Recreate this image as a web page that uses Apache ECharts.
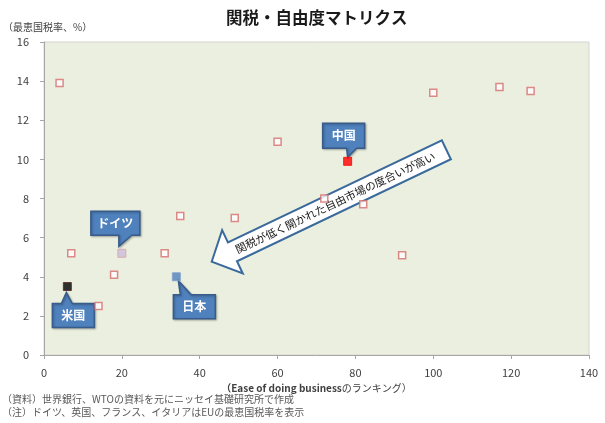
<!DOCTYPE html>
<html><head><meta charset="utf-8">
<script src="https://cdn.jsdelivr.net/npm/echarts@6/dist/echarts.min.js"></script>
<style>html,body{margin:0;padding:0;background:#fff}#c{width:605px;height:423px}</style>
</head><body><div id="c"></div>
<script>
const otherRank   = [4, 7, 14, 18, 31, 35, 49, 60, 72, 82, 92, 100, 117, 125];
const otherTariff = [13.9, 5.2, 2.5, 4.1, 5.2, 7.1, 7.0, 10.9, 8.0, 7.7, 5.1, 13.4, 13.7, 13.5];
const countries     = ['米国', 'ドイツ', '日本', '中国'];
const countryRank   = [6, 20, 34, 78];
const countryTariff = [3.5, 5.2, 4.0, 9.9];
const countryColors = ['#000000', '#c9bddb', '#4f81bd', '#ff0000'];
const countryBorders = ['#5a1f1f', '#d9a0a0', '#7f9fc8', '#ff0000'];

const FONT = '"Noto Sans CJK JP", "Noto Sans", sans-serif';
const chart = echarts.init(document.getElementById('c'), null, {renderer: 'canvas'});

const otherData = otherRank.map((r, i) => [r, otherTariff[i]]);
const countryData = countries.map((n, i) => ({
  value: [countryRank[i], countryTariff[i]],
  itemStyle: {color: countryColors[i], borderColor: countryBorders[i], borderWidth: 1}
}));

chart.setOption({
  animation: false,
  textStyle: {fontFamily: FONT},
  title: {
    text: '関税・自由度マトリクス', left: 221, top: 4,
    textStyle: {fontSize: 16.5, fontWeight: 'bold', color: '#1a1a1a', fontFamily: FONT}
  },
  grid: {
    left: 44, right: 16, top: 42, bottom: 68, show: true,
    backgroundColor: '#ebefdf', borderColor: '#d4d4d4', borderWidth: 1
  },
  xAxis: {
    type: 'value', min: 0, max: 140, interval: 20,
    axisLine: {show: true, lineStyle: {color: '#a6a6a6'}},
    axisTick: {show: true, length: 4, lineStyle: {color: '#a6a6a6'}},
    splitLine: {show: false},
    axisLabel: {fontSize: 11, color: '#404040', margin: 12, fontFamily: FONT},
    name: '{b|（Ease of doing business}{n|のランキング）}',
    nameLocation: 'middle', nameGap: 27,
    nameTextStyle: {
      rich: {
        b: {fontSize: 10, fontWeight: 'bold', color: '#404040', fontFamily: FONT},
        n: {fontSize: 10, color: '#404040', fontFamily: FONT}
      }
    }
  },
  yAxis: {
    type: 'value', min: 0, max: 16, interval: 2,
    axisLine: {show: true, lineStyle: {color: '#a6a6a6'}},
    axisTick: {show: true, length: 4, lineStyle: {color: '#a6a6a6'}},
    splitLine: {show: false},
    axisLabel: {fontSize: 11, color: '#404040', margin: 15, fontFamily: FONT}
  },
  series: [
    {
      type: 'scatter', data: otherData, symbol: 'rect', symbolSize: 7,
      itemStyle: {color: '#ffffff', borderColor: '#d46e6e', borderWidth: 1.5},
      z: 2
    },
    {
      type: 'scatter', data: countryData, symbol: 'rect', symbolSize: 8, z: 3
    }
  ]
});

// Callouts (box + tail) anchored to each country's data point
const callouts = [
  {box: [-15, 17, 27, 41], tail: [[-6, 17], [-1, 6], [5, 17]], down: false},   // 米国
  {box: [-31, -42, 18, -18], tail: [[-3, -18], [-3, -7], [10, -18]], down: true}, // ドイツ
  {box: [-3, 18, 39, 42], tail: [[4, 18], [2, 4], [15, 18]], down: false},     // 日本
  {box: [-25, -38, 17, -13], tail: [[-1, -13], [0, -4], [9, -13]], down: true}  // 中国
];

const graphics = [];
countries.forEach((name, i) => {
  const p = chart.convertToPixel({gridIndex: 0}, [countryRank[i], countryTariff[i]]);
  const c = callouts[i];
  const [x0, y0, x1, y1] = c.box;
  let pts;
  if (c.down) {
    pts = [[x0, y0], [x1, y0], [x1, y1], c.tail[2], c.tail[1], c.tail[0], [x0, y1]];
  } else {
    pts = [[x0, y0], c.tail[0], c.tail[1], c.tail[2], [x1, y0], [x1, y1], [x0, y1]];
  }
  graphics.push({
    type: 'group', x: p[0], y: p[1], z: 20,
    children: [
      {type: 'polygon', shape: {points: pts},
       style: {fill: '#4f81bd', stroke: '#385d8a', lineWidth: 1.5,
               shadowBlur: 2, shadowColor: 'rgba(0,0,0,0.25)', shadowOffsetX: 1, shadowOffsetY: 1}},
      {type: 'text', x: (x0 + x1) / 2, y: (y0 + y1) / 2,
       style: {text: name, fill: '#ffffff', font: 'bold 12px ' + FONT, align: 'center', verticalAlign: 'middle'}}
    ]
  });
});

// Big arrow annotation
const L = 260, hw = 10.5, headL = 23, headW = 24;
graphics.push({
  type: 'group', x: 211.7, y: 261.7, rotation: 25.5 * Math.PI / 180, z: 15,
  children: [
    {type: 'polygon',
     shape: {points: [[0, 0], [headL, -headW], [headL, -hw], [L, -hw], [L, hw], [headL, hw], [headL, headW]]},
     style: {fill: '#ffffff', stroke: '#3a6a9c', lineWidth: 2}},
    {type: 'text', x: 137, y: 0, z2: 5,
     style: {text: '関税が低く開かれた自由市場の度合いが高い', fill: '#1a1a1a',
             font: '11px ' + FONT, align: 'center', verticalAlign: 'middle'}}
  ]
});

// Axis name and notes
graphics.push(
  {type: 'text', left: 3, top: 22,
   style: {text: '（最恵国税率、%）', fill: '#404040', font: '10px ' + FONT}},
  {type: 'text', left: 2, top: 394,
   style: {text: '（資料）世界銀行、WTOの資料を元にニッセイ基礎研究所で作成', fill: '#595959', font: '10px ' + FONT}},
  {type: 'text', left: 2, top: 407,
   style: {text: '（注）ドイツ、英国、フランス、イタリアはEUの最恵国税率を表示', fill: '#595959', font: '10px ' + FONT}}
);

chart.setOption({graphic: graphics});
</script>
</body></html>
